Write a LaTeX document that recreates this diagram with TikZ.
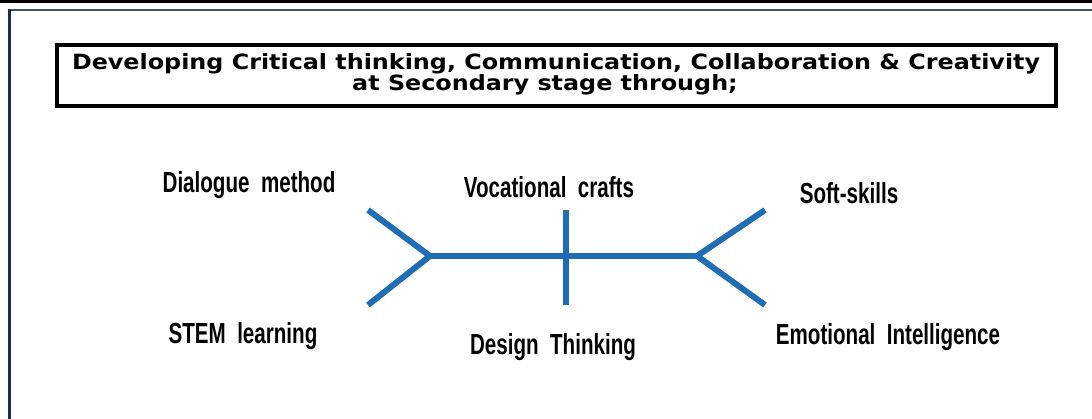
\documentclass[tikz,border=0pt]{standalone}
\usepackage{fontspec}
\setmainfont{DejaVu Sans}
\newfontfamily\lblfont{Liberation Sans}
\definecolor{fishblue}{HTML}{1F6DB5}
\definecolor{framenavy}{HTML}{1B2D52}
\definecolor{framegray}{HTML}{44506A}
\tikzset{
  fish/.style={draw=fishblue, line width=6pt, line cap=butt},
  lbl/.style={inner sep=0pt, font=\lblfont\bfseries\fontsize{29}{32}\selectfont},
  titlebox/.style={draw=black, line width=4.5pt, inner sep=0pt, minimum width=999pt, minimum height=61pt},
  titletext/.style={inner sep=0pt, font=\bfseries\fontsize{21}{23}\selectfont}
}
\newcommand{\cond}[1]{\scalebox{0.71}[1]{#1}}
\newcommand{\tstretch}[1]{\scalebox{1.135}[1]{#1}}
\begin{document}
\begin{tikzpicture}[x=1pt,y=-1pt]
\useasboundingbox (0,0) rectangle (1092,419);
\fill[white] (0,0) rectangle (1092,419);
% frame
\fill[black] (0,0) rectangle (1092,3);
\draw[framegray, line width=2.5pt] (8,10) -- (1092,10);
\draw[framenavy, line width=3pt] (9.5,9) -- (9.5,419);
% title
\node[titlebox] (title) at (556.5,75.5) {};
\node[titletext] (t1) at (556,63.5) {\tstretch{Developing Critical thinking, Communication, Collaboration \& Creativity}};
\node[titletext] (t2) at (545,85) {\tstretch{at Secondary stage through;}};
% fishbone
\coordinate (L) at (430,256);
\coordinate (R) at (697,256);
\coordinate (LU) at (368,210);
\coordinate (LD) at (368,305);
\coordinate (RU) at (765,210);
\coordinate (RD) at (765,305);
\coordinate (MU) at (566,210);
\coordinate (MD) at (566,305);
\draw[fish, line join=miter] (LU) -- (L) -- (LD);
\draw[fish, line join=miter] (RU) -- (R) -- (RD);
\draw[fish] (L) -- (R);
\draw[fish] (MU) -- (MD);
% labels
\node[lbl] (dm) at (249,185) {\cond{Dialogue\ \ method}};
\node[lbl] (vc) at (549,187) {\cond{Vocational\ \ crafts}};
\node[lbl] (ss) at (849,193) {\cond{Soft-skills}};
\node[lbl] (st) at (243,336) {\cond{STEM\ \ learning}};
\node[lbl] (dt) at (553,347) {\cond{Design\ \ Thinking}};
\node[lbl] (ei) at (888,337) {\cond{Emotional\ \ Intelligence}};
\end{tikzpicture}
\end{document}
